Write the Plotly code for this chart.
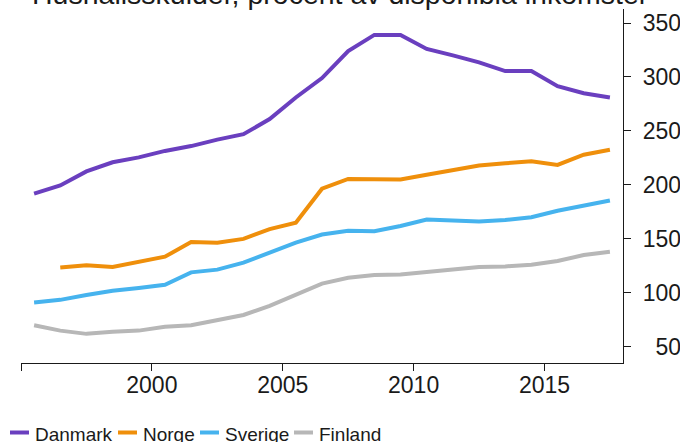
import plotly.graph_objects as go

# Household debt as a percentage of disposable income, 1995-2017
years = list(range(1995, 2018))
danmark = [192, 199.5, 212.5, 221, 225.5, 231.5, 236, 242, 247, 261, 281, 299,
           324, 339, 339, 326, 320, 313.5, 305.5, 305.5, 291.5, 285, 281]
norge = [None, 123.5, 125.5, 124, 128.5, 133.5, 147, 146.5, 150, 159, 165, 196.5,
         205.5, 205.5, 205, 209.5, 214, 218, 220, 222, 218.5, 228, 232.5]
sverige = [91, 93.5, 98, 102, 104.5, 107.5, 119, 121.5, 128, 137.5, 146.5, 154,
           157.5, 157, 162, 168, 167, 166, 167.5, 170, 176, 180.5, 185.5]
finland = [70, 65, 62, 64, 65, 68.5, 70, 75, 79.5, 88, 98.5, 108.5,
           114, 116.5, 117, 119.5, 122, 124, 124.5, 126, 129.5, 135, 138]

series_names = ["Danmark", "Norge", "Sverige", "Finland"]
series_values = [danmark, norge, sverige, finland]
series_colors = ["#6a3fbf", "#ef8f0b", "#46b3ee", "#b7b7b7"]

x_tick_years = [1995, 2000, 2005, 2010, 2015]
x_tick_labels = ["", "2000", "2005", "2010", "2015"]
y_tick_values = [50, 100, 150, 200, 250, 300, 350]

title_text = "Hushållsskulder, procent av disponibla inkomster"

FONT = "Liberation Sans, Arial, sans-serif"
TEXT = "#1a1a1a"
W, H = 680, 442
ML, MR, MT, MB = 21, 57, 9, 79
PW, PH = W - ML - MR, H - MT - MB


def px_x(px):
    """Page pixel column -> paper x."""
    return (px - ML) / PW


def px_y(py):
    """Page pixel row -> paper y."""
    return (H - MB - py) / PH


# annual observations sit in the middle of each year
x_mid = [y + 0.5 for y in years]

fig = go.Figure()
for name, vals, col in zip(series_names, series_values, series_colors):
    fig.add_trace(go.Scatter(
        x=x_mid, y=vals, name=name, mode="lines",
        line=dict(color=col, width=4), connectgaps=False, showlegend=False,
    ))

# right-aligned value labels on the right-hand axis
width = max(len(str(v)) for v in y_tick_values)
y_tick_text = ["\u2007" * (width - len(str(v))) + str(v) for v in y_tick_values]

fig.update_layout(
    width=W, height=H,
    margin=dict(l=ML, r=MR, t=MT, b=MB, autoexpand=False),
    paper_bgcolor="white", plot_bgcolor="white",
    font=dict(family=FONT, color=TEXT),
    xaxis=dict(
        range=[1995, 2018], tickvals=x_tick_years, ticktext=x_tick_labels,
        showgrid=False, zeroline=False, showline=True, linecolor=TEXT,
        linewidth=1.3, ticks="outside", ticklen=7, tickcolor=TEXT,
        ticklabelstandoff=-6,
        tickfont=dict(size=23, family=FONT, color=TEXT),
    ),
    yaxis=dict(
        side="right", range=[35, 363], tickvals=y_tick_values, ticktext=y_tick_text,
        showgrid=False, zeroline=False, showline=True, linecolor=TEXT,
        linewidth=1.3, ticks="outside", ticklen=7, tickcolor=TEXT,
        ticklabelstandoff=7,
        tickfont=dict(size=23, family=FONT, color=TEXT),
    ),
)

# title, centred on the page and running off its top edge
fig.add_annotation(
    text=title_text, xref="paper", yref="paper",
    x=px_x(W / 2), xanchor="center",
    y=1, yanchor="bottom", yshift=-3, showarrow=False,
    font=dict(size=28.5, family=FONT, color=TEXT),
)

# key along the bottom edge: short coloured stroke followed by the name
key_stroke_left = [10, 118, 200, 294]
key_stroke_len = 19
key_text_gap = 5
key_row = 434.5
for name, col, x0 in zip(series_names, series_colors, key_stroke_left):
    fig.add_shape(
        type="line", xref="paper", yref="paper",
        x0=px_x(x0), x1=px_x(x0 + key_stroke_len),
        y0=px_y(key_row - 2), y1=px_y(key_row - 2),
        line=dict(color=col, width=4),
    )
    fig.add_annotation(
        text=name, xref="paper", yref="paper",
        x=px_x(x0 + key_stroke_len + key_text_gap - 1), xanchor="left",
        y=px_y(key_row), yanchor="middle", showarrow=False,
        font=dict(size=19, family=FONT, color=TEXT),
    )

fig.write_html("out.html")
